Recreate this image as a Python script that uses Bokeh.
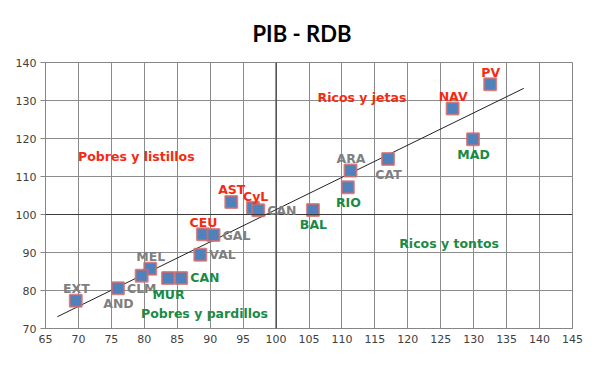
from bokeh.plotting import figure
from bokeh.models import ColumnDataSource, Span, Range1d, FixedTicker, Label
from bokeh.embed import file_html
from bokeh.resources import INLINE

# Data: PIB (x) vs RDB (y)
names = ["EXT", "CLM", "MEL", "AND2", "MUR", "CAN", "VAL", "CEU", "GAL", "AST", "CyL", "CANT",
         "BAL", "RIO", "ARA", "CAT", "NAV", "MAD", "PV"]
pib = [69.6, 76.0, 80.9, 79.6, 83.6, 85.6, 88.5, 88.9, 90.5, 93.2, 96.5, 97.3,
       105.6, 110.9, 111.3, 117.0, 126.8, 129.9, 132.5]
rdb = [77.3, 80.6, 85.7, 83.9, 83.3, 83.3, 89.4, 94.8, 94.6, 103.3, 101.8, 101.1,
       101.2, 107.2, 111.6, 114.6, 127.9, 119.8, 134.3]

# Trend line
trend_x = [66.8, 137.6]
trend_y = [73.1, 133.2]

# Point labels: text, anchor x, anchor y, colour group, placement
lab_text = ["EXT", "AND", "CLM", "MEL", "MUR", "CAN", "VAL", "CEU", "GAL", "AST", "CyL", "CAN",
            "BAL", "RIO", "ARA", "CAT", "NAV", "MAD", "PV"]
lab_x = [69.6, 76.0, 76.0, 80.9, 83.6, 85.6, 88.5, 88.9, 90.5, 93.2, 96.5, 97.3,
         105.6, 110.9, 111.3, 117.0, 126.8, 129.9, 132.5]
lab_y = [77.3, 80.6, 80.6, 85.7, 83.3, 83.3, 89.4, 94.8, 94.6, 103.3, 101.8, 101.1,
         101.2, 107.2, 111.6, 114.6, 127.9, 119.8, 134.3]
lab_grp = ["g", "g", "g", "g", "v", "v", "g", "r", "g", "r", "r", "g",
           "v", "v", "g", "g", "r", "v", "r"]
lab_pos = ["above", "below", "right", "above", "below2", "right", "right", "above", "right", "above",
           "aboveright", "right", "below", "below", "above", "below", "above", "below", "above"]

quad_text = ["Pobres y listillos", "Ricos y jetas", "Ricos y tontos", "Pobres y pardillos"]
quad_x = [69.95, 106.3, 118.7, 79.5]
quad_y = [115.3, 130.9, 92.3, 73.9]
quad_grp = ["r", "r", "v", "v"]

x_ticks = list(range(65, 150, 5))
y_ticks = list(range(70, 150, 10))

RED = "#F62A12"
GREEN = "#1B8A45"
GRAY = "#7F7F7F"
colmap = {"r": RED, "v": GREEN, "g": GRAY}

# pixel offsets of labels relative to their point
placement = {
    "above": dict(text_align="center", x_offset=0.5, y_offset=12),
    "below": dict(text_align="center", x_offset=0.5, y_offset=-15),
    "below2": dict(text_align="center", x_offset=0.5, y_offset=-16.5),
    "right": dict(text_align="left", x_offset=9, y_offset=0),
    "aboveright": dict(text_align="left", x_offset=-10, y_offset=11.5),
}

p = figure(width=584, height=349, output_backend="svg", toolbar_location=None,
           x_range=Range1d(65, 145), y_range=Range1d(70, 140),
           min_border_left=45, min_border_right=12, min_border_top=62, min_border_bottom=21)
p.title.text = "PIB - RDB"
p.title.align = "left"
p.title.text_font = "Lato"
p.title.text_font_size = "22px"
p.title.text_font_style = "bold"
p.title.text_color = "#000000"
p.title.offset = 207
p.title.standoff = 32

p.outline_line_color = "#868686"
p.background_fill_color = "white"
p.border_fill_color = "white"

p.xgrid.ticker = FixedTicker(ticks=x_ticks)
p.ygrid.ticker = FixedTicker(ticks=y_ticks)
p.xgrid.grid_line_color = "#8C8C8C"
p.ygrid.grid_line_color = "#8C8C8C"
p.xaxis.ticker = FixedTicker(ticks=x_ticks)
p.yaxis.ticker = FixedTicker(ticks=y_ticks)
for ax in (p.xaxis[0], p.yaxis[0]):
    ax.axis_line_color = "#868686"
    ax.major_tick_line_color = "#868686"
    ax.minor_tick_line_color = None
    ax.major_tick_in = 0
    ax.major_tick_out = 5
    ax.major_label_text_font = "DejaVu Sans"
    ax.major_label_text_font_size = "11px"
    ax.major_label_text_color = "#404040"
p.xaxis.major_tick_line_color = None
p.xaxis.major_tick_out = 0
p.xaxis.major_label_standoff = 6
p.yaxis.major_label_standoff = 4

p.add_layout(Span(location=100, dimension="width", line_color="#3A3A3A", line_width=1.2))
p.add_layout(Span(location=100, dimension="height", line_color="#3A3A3A", line_width=1.2))

p.line(trend_x, trend_y, line_color="#222222", line_width=1)

src = ColumnDataSource(dict(x=pib, y=rdb, name=names))
p.scatter("x", "y", source=src, marker="square", size=12, fill_color="#4F81BD",
          line_color="#D26A6A", line_alpha=0.8, line_width=2)

for t, x, y, g, pos in zip(lab_text, lab_x, lab_y, lab_grp, lab_pos):
    p.add_layout(Label(x=x, y=y, text=t, text_color=colmap[g], text_font="DejaVu Sans",
                       text_font_size="12.5px", text_font_style="bold",
                       text_baseline="middle", **placement[pos]))

for t, x, y, g in zip(quad_text, quad_x, quad_y, quad_grp):
    p.add_layout(Label(x=x, y=y, text=t, text_color=colmap[g], text_font="DejaVu Sans",
                       text_font_size="12.5px", text_font_style="bold",
                       text_align="left", text_baseline="middle"))

open("out.html", "w").write(file_html(p, INLINE))
